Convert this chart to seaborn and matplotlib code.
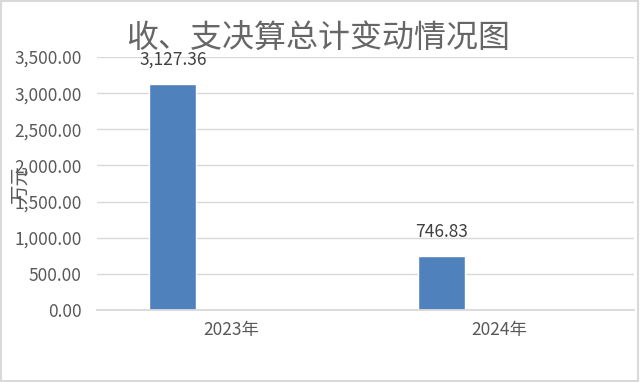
import matplotlib
matplotlib.use("Agg")
import matplotlib.pyplot as plt
import seaborn as sns
import pandas as pd
from matplotlib.patches import Rectangle
from matplotlib.ticker import FuncFormatter, MultipleLocator

years = ["2023年", "2024年"]
series = ["收入决算", "支出决算"]
income_values = [3127.36, 746.83]
expense_values = [0.0, 0.0]
title = "收、支决算总计变动情况图"
y_label = "万元"

df = pd.DataFrame({
    "year": years * 2,
    "series": [series[0]] * len(years) + [series[1]] * len(years),
    "value": income_values + expense_values,
})

sns.set_theme(style="white")
plt.rcParams["font.family"] = ["Noto Sans CJK SC", "DejaVu Sans"]

gray = "#595959"
grid = "#d9d9d9"
bar_color = "#4f81bd"

fig = plt.figure(figsize=(6.4, 3.82), dpi=100)
ax = fig.add_axes([97/640, 1-310/382, (634-97)/640, (310-57)/382])

sns.barplot(data=df, x="year", y="value", hue="series", order=years,
            hue_order=series, palette=[bar_color, bar_color],
            width=0.871, gap=0.6, legend=False, ax=ax, saturation=1)

ax.set_ylim(0, 3500)
ax.set_xlim(-0.5, 1.5)
ax.yaxis.set_major_locator(MultipleLocator(500))
ax.yaxis.set_major_formatter(FuncFormatter(lambda v, p: f"{v:,.2f}"))
ax.grid(axis="y", color=grid, linewidth=1)
ax.set_axisbelow(True)
for s in ["top", "right", "left"]:
    ax.spines[s].set_visible(False)
ax.spines["bottom"].set_color(grid)
ax.spines["bottom"].set_linewidth(1.3)
ax.tick_params(axis="y", length=0, pad=11, labelsize=12.5, labelcolor=gray)
ax.tick_params(axis="x", length=0, pad=8, labelsize=12.5, labelcolor=gray)
ax.set_xlabel("")
ax.set_ylabel("")

cont = ax.containers[0]
ax.bar_label(cont, labels=[f"{v:,.2f}" for v in income_values],
             padding=11, fontsize=12.5, color="#404040")

fig.text(318/640, 1-39/382, title, ha="center", va="center",
         fontsize=23, color="#666666", fontweight="light")
fig.text(21/640, 1-185/382, y_label, ha="center", va="center",
         rotation=90, fontsize=14, color=gray)

fig.patches.append(Rectangle((0.002, 0.003), 0.995, 0.994, transform=fig.transFigure,
                             fill=False, edgecolor=grid, linewidth=1.5))

fig.savefig("out.png", dpi=100, facecolor="white")
